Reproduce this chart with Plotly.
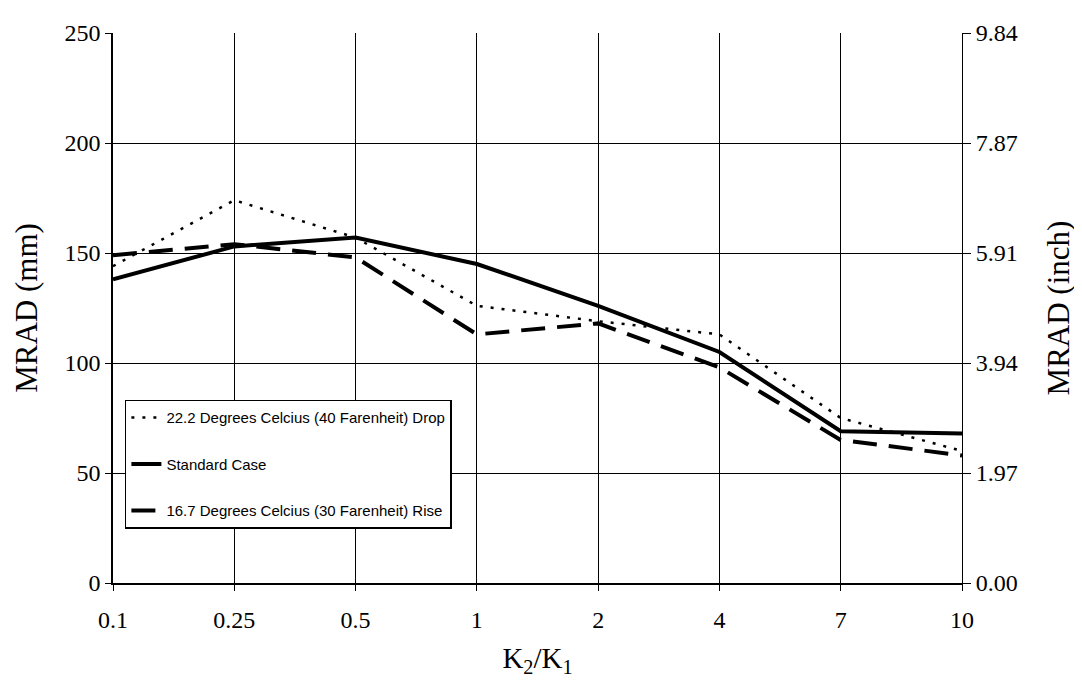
import plotly.graph_objects as go

categories = ["0.1", "0.25", "0.5", "1", "2", "4", "7", "10"]
drop_40f = [144, 174, 157, 126, 119, 113, 75, 60]
standard = [138, 153, 157, 145, 126, 105, 69, 68]
rise_30f = [149, 154, 148, 113, 118, 98, 65, 58]
left_ticks = [0, 50, 100, 150, 200, 250]
right_tick_labels = ["0.00", "1.97", "3.94", "5.91", "7.87", "9.84"]

fig = go.Figure()
fig.add_trace(go.Scatter(x=categories, y=drop_40f, mode="lines",
                         name="22.2 Degrees Celcius (40 Farenheit) Drop", legendgroup="a",
                         line=dict(color="black", width=2.5, dash="3px,8px")))
fig.add_trace(go.Scatter(x=categories, y=standard, mode="lines",
                         name="Standard Case", legendgroup="b",
                         line=dict(color="black", width=4)))
fig.add_trace(go.Scatter(x=categories, y=rise_30f, mode="lines",
                         name="16.7 Degrees Celcius (30 Farenheit) Rise", legendgroup="c",
                         line=dict(color="black", width=4, dash="24px,12px")))
# invisible trace on right axis to show inch scale
fig.add_trace(go.Scatter(x=categories, y=[None]*len(categories), yaxis="y2",
                         showlegend=False, hoverinfo="skip"))

serif = "Liberation Serif, Times New Roman, serif"
fig.update_layout(
    width=1082, height=684,
    margin=dict(l=105, r=128, t=18, b=109),
    paper_bgcolor="white", plot_bgcolor="white",
    font=dict(family=serif, color="black", size=24),
    xaxis=dict(type="category", range=[0, 7], showgrid=True, gridcolor="black",
               gridwidth=1, ticks="outside", ticklen=6, tickcolor="black",
               showline=True, linecolor="black", linewidth=1.5,
               tickfont=dict(family=serif, size=24), ticklabelstandoff=8,
               title=dict(text="K<sub>2</sub>/K<sub>1</sub>", font=dict(family=serif, size=29), standoff=16),
               zeroline=False),
    yaxis=dict(range=[0, 250], tickvals=left_ticks, showgrid=True, gridcolor="black",
               gridwidth=1, ticks="outside", ticklen=6, tickcolor="black",
               showline=True, linecolor="black", linewidth=1.5, mirror=False,
               tickfont=dict(family=serif, size=24),
               title=dict(text="MRAD (mm)", font=dict(family=serif, size=31), standoff=18),
               zeroline=False),
    yaxis2=dict(range=[0, 250], overlaying="y", side="right",
                tickvals=left_ticks, ticktext=right_tick_labels,
                showgrid=False, ticks="outside", ticklen=8, tickcolor="black",
                showline=True, linecolor="black", linewidth=1,
                tickfont=dict(family=serif, size=24),
                title=dict(text="MRAD (inch)", font=dict(family=serif, size=31), standoff=30),
                zeroline=False),
    legend=dict(x=0.014, y=0.333, xanchor="left", yanchor="top",
                bgcolor="white", bordercolor="black", borderwidth=1.5,
                font=dict(family="Liberation Sans, Arial, sans-serif", size=15),
                tracegroupgap=24),
    showlegend=True,
)

fig.write_html("out.html")
